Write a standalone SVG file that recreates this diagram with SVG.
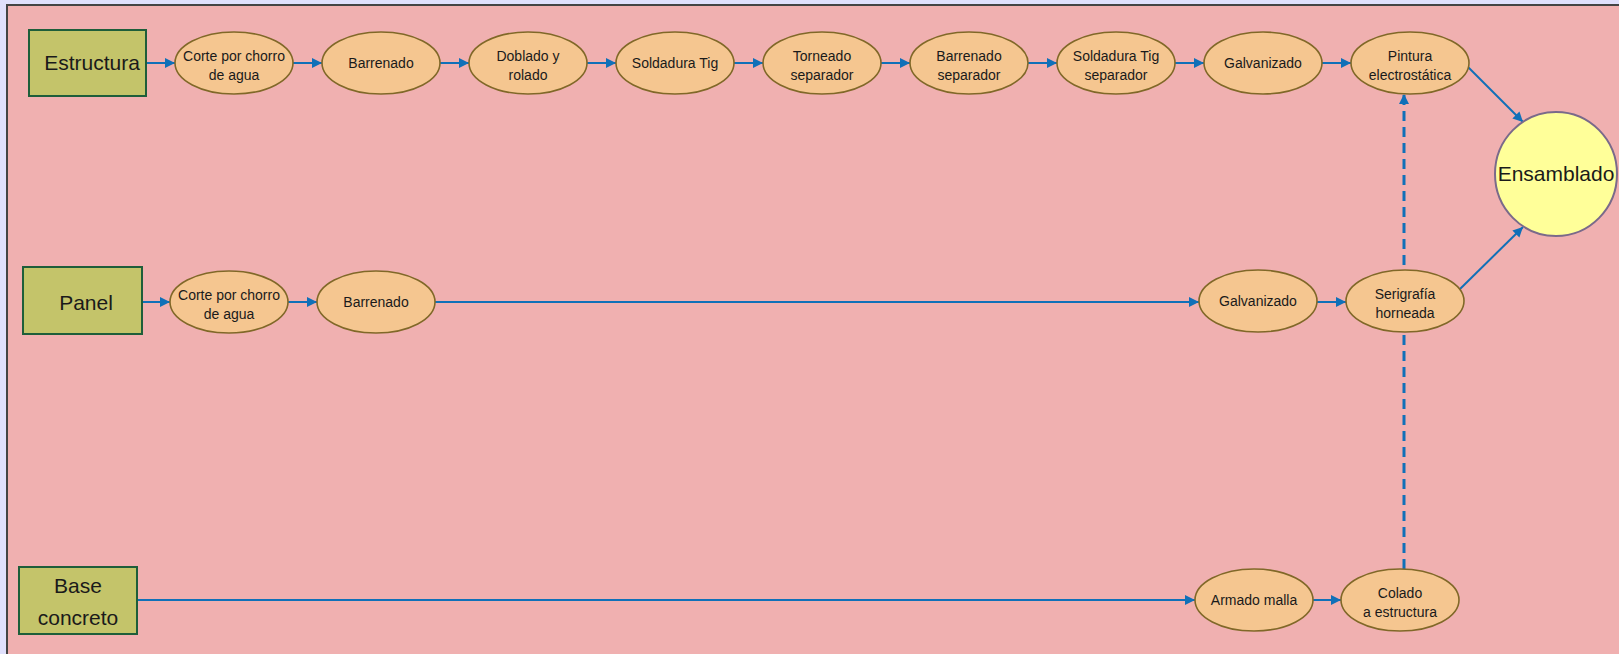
<svg xmlns="http://www.w3.org/2000/svg" width="1619" height="654" viewBox="0 0 1619 654">
<style>
.bg{fill:#E0E0FC}
.panel{fill:#F0B0B0;stroke:#444;stroke-width:2}
.box{fill:#C4C46A;stroke:#1E5E3A;stroke-width:2}
.proc{fill:#F5C690;stroke:#806828;stroke-width:1.6}
.end{fill:#FFFF99;stroke:#7A6A8A;stroke-width:2}
.t{font-family:"Liberation Sans",Arial,sans-serif;font-size:14px;fill:#1a1a1a;text-anchor:middle}
.tb{font-family:"Liberation Sans",Arial,sans-serif;font-size:21px;fill:#1a1a1a;text-anchor:middle}
.c{stroke:#1070B8;stroke-width:2;fill:none;marker-end:url(#ah)}
.d{stroke:#1070B8;stroke-width:3;fill:none;stroke-dasharray:10 6;marker-end:url(#ah)}
</style>
<defs>
<marker id="ah" markerUnits="userSpaceOnUse" markerWidth="11" markerHeight="11" refX="10" refY="5" orient="auto">
<path d="M0,0 L10,5 L0,10 z" fill="#1070B8"/>
</marker>
</defs>
<rect class="bg" x="0" y="0" width="1619" height="654"/>
<rect class="panel" x="7" y="5" width="1620" height="660"/>

<g id="connectors">
<line class="c" x1="146" y1="63" x2="175" y2="63"/>
<line class="c" x1="293" y1="63" x2="322" y2="63"/>
<line class="c" x1="440" y1="63" x2="469" y2="63"/>
<line class="c" x1="587" y1="63" x2="616" y2="63"/>
<line class="c" x1="734" y1="63" x2="763" y2="63"/>
<line class="c" x1="881" y1="63" x2="910" y2="63"/>
<line class="c" x1="1028" y1="63" x2="1057" y2="63"/>
<line class="c" x1="1175" y1="63" x2="1204" y2="63"/>
<line class="c" x1="1322" y1="63" x2="1351" y2="63"/>
<line class="c" x1="1468" y1="67" x2="1523" y2="122"/>
<line class="c" x1="142" y1="302" x2="170" y2="302"/>
<line class="c" x1="288" y1="302" x2="317" y2="302"/>
<line class="c" x1="435" y1="302" x2="1199" y2="302"/>
<line class="c" x1="1317" y1="302" x2="1346" y2="302"/>
<line class="c" x1="1460" y1="289" x2="1523" y2="227"/>
<line class="c" x1="137" y1="600" x2="1195" y2="600"/>
<line class="c" x1="1313" y1="600" x2="1341" y2="600"/>
<line class="d" x1="1404" y1="569" x2="1404" y2="94"/>
</g>

<g id="estructura"><rect class="box" x="29" y="30" width="117" height="66"/><text class="tb" x="92" y="70">Estructura</text></g>
<g id="e1"><ellipse class="proc" cx="234" cy="63" rx="59" ry="31"/><text class="t" x="234" y="61">Corte por chorro</text><text class="t" x="234" y="80">de agua</text></g>
<g id="e2"><ellipse class="proc" cx="381" cy="63" rx="59" ry="31"/><text class="t" x="381" y="68">Barrenado</text></g>
<g id="e3"><ellipse class="proc" cx="528" cy="63" rx="59" ry="31"/><text class="t" x="528" y="61">Doblado y</text><text class="t" x="528" y="80">rolado</text></g>
<g id="e4"><ellipse class="proc" cx="675" cy="63" rx="59" ry="31"/><text class="t" x="675" y="68">Soldadura Tig</text></g>
<g id="e5"><ellipse class="proc" cx="822" cy="63" rx="59" ry="31"/><text class="t" x="822" y="61">Torneado</text><text class="t" x="822" y="80">separador</text></g>
<g id="e6"><ellipse class="proc" cx="969" cy="63" rx="59" ry="31"/><text class="t" x="969" y="61">Barrenado</text><text class="t" x="969" y="80">separador</text></g>
<g id="e7"><ellipse class="proc" cx="1116" cy="63" rx="59" ry="31"/><text class="t" x="1116" y="61">Soldadura Tig</text><text class="t" x="1116" y="80">separador</text></g>
<g id="e8"><ellipse class="proc" cx="1263" cy="63" rx="59" ry="31"/><text class="t" x="1263" y="68">Galvanizado</text></g>
<g id="e9"><ellipse class="proc" cx="1410" cy="63" rx="59" ry="31"/><text class="t" x="1410" y="61">Pintura</text><text class="t" x="1410" y="80">electrostática</text></g>

<g id="ensamblado"><ellipse class="end" cx="1556" cy="174" rx="61" ry="62"/><text class="tb" x="1556" y="181" font-size="22">Ensamblado</text></g>

<g id="panel"><rect class="box" x="23" y="267" width="119" height="67"/><text class="tb" x="86" y="310">Panel</text></g>
<g id="p1"><ellipse class="proc" cx="229" cy="302" rx="59" ry="31"/><text class="t" x="229" y="300">Corte por chorro</text><text class="t" x="229" y="319">de agua</text></g>
<g id="p2"><ellipse class="proc" cx="376" cy="302" rx="59" ry="31"/><text class="t" x="376" y="307">Barrenado</text></g>
<g id="p3"><ellipse class="proc" cx="1258" cy="301" rx="59" ry="31"/><text class="t" x="1258" y="306">Galvanizado</text></g>
<g id="p4"><ellipse class="proc" cx="1405" cy="301" rx="59" ry="31"/><text class="t" x="1405" y="299">Serigrafía</text><text class="t" x="1405" y="318">horneada</text></g>

<g id="base"><rect class="box" x="19" y="567" width="118" height="67"/><text class="tb" x="78" y="593">Base</text><text class="tb" x="78" y="625">concreto</text></g>
<g id="b1"><ellipse class="proc" cx="1254" cy="600" rx="59" ry="31"/><text class="t" x="1254" y="605">Armado malla</text></g>
<g id="b2"><ellipse class="proc" cx="1400" cy="600" rx="59" ry="31"/><text class="t" x="1400" y="598">Colado</text><text class="t" x="1400" y="617">a estructura</text></g>
</svg>
